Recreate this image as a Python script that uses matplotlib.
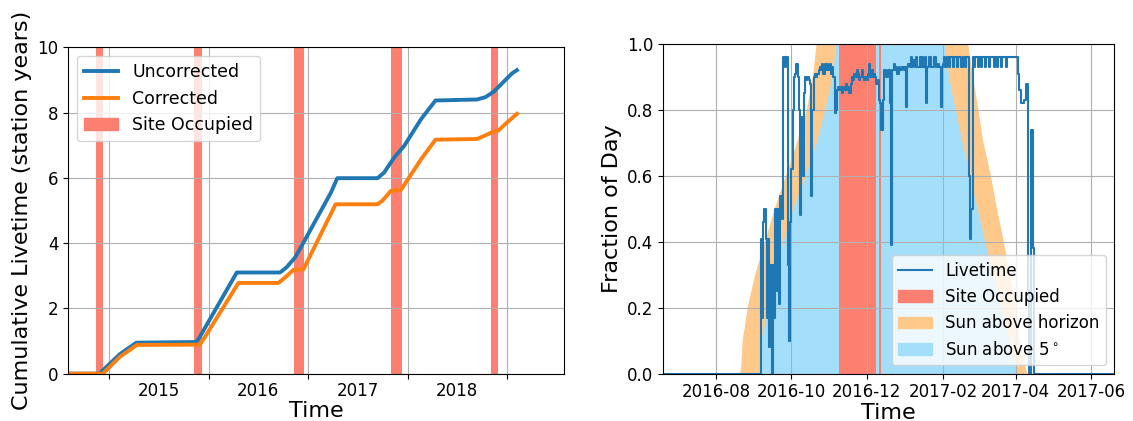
import numpy as np
import pandas as pd
import matplotlib
matplotlib.use("Agg")
import matplotlib.pyplot as plt
import matplotlib.dates as mdates
from matplotlib.lines import Line2D
from matplotlib.patches import Patch

# ---- left panel: cumulative livetime ----
uncorr_dates = ["2014-08-01", "2014-11-25", "2015-02-09", "2015-04-10", "2015-11-16",
                "2015-11-28", "2016-04-13", "2016-09-19", "2016-10-13", "2016-11-13",
                "2016-12-01", "2017-03-25", "2017-04-17", "2017-09-12", "2017-10-06",
                "2017-11-12", "2017-12-19", "2018-02-19", "2018-04-13", "2018-09-12",
                "2018-10-13", "2018-11-13", "2019-01-01", "2019-01-19", "2019-02-06"]
uncorr_vals = [0.0, 0.0, 0.60, 0.95, 0.97, 1.11, 3.10, 3.10, 3.26, 3.56,
               3.82, 5.55, 5.99, 5.99, 6.16, 6.62, 6.98, 7.80, 8.37, 8.40,
               8.47, 8.64, 9.05, 9.20, 9.30]

corr_dates = ["2014-08-01", "2014-12-08", "2015-02-09", "2015-04-12", "2015-11-29",
              "2015-12-17", "2016-04-19", "2016-09-13", "2016-10-08", "2016-11-07",
              "2016-12-14", "2017-04-11", "2017-09-12", "2017-09-30", "2017-10-31",
              "2017-12-07", "2018-02-19", "2018-04-13", "2018-09-12", "2018-10-13",
              "2018-11-10", "2018-11-30", "2019-01-01", "2019-02-06"]
corr_vals = [0.0, 0.0, 0.52, 0.88, 0.89, 1.11, 2.78, 2.78, 2.95, 3.18,
             3.20, 5.19, 5.19, 5.30, 5.60, 5.63, 6.57, 7.17, 7.19, 7.30,
             7.41, 7.45, 7.70, 7.96]

occupied_start = ["2014-11-13", "2015-11-07", "2016-11-09", "2017-10-31", "2018-11-04"]
occupied_end = ["2014-12-08", "2015-12-09", "2016-12-16", "2017-12-12", "2018-11-29"]

year_label_pos = ["2015-07-01", "2016-07-01", "2017-07-01", "2018-07-01"]
year_labels = ["2015", "2016", "2017", "2018"]

# ---- right panel: one season ----
livetime_start = "2016-09-06"
livetime_vals = [
    0.41, 0.17, 0.46, 0.50, 0.41, 0.17, 0.41, 0.08, 0.33, 0.00,
    0.33, 0.17, 0.50, 0.25, 0.50, 0.21, 0.54, 0.47, 0.96, 0.96,
    0.93, 0.96, 0.33, 0.10, 0.46, 0.62, 0.80, 0.90, 0.91, 0.94,
    0.90, 0.80, 0.48, 0.78, 0.60, 0.85, 0.90, 0.89, 0.90, 0.89,
    0.88, 0.54, 0.80, 0.90, 0.91, 0.90, 0.91, 0.92, 0.93, 0.92,
    0.94, 0.91, 0.94, 0.92, 0.94, 0.92, 0.94, 0.91, 0.93, 0.90,
    0.79, 0.80, 0.86, 0.87, 0.86, 0.87, 0.85, 0.87, 0.86, 0.88,
    0.86, 0.87, 0.85, 0.88, 0.90, 0.89, 0.91, 0.90, 0.92, 0.91,
    0.89, 0.90, 0.92, 0.90, 0.89, 0.90, 0.89, 0.91, 0.94, 0.90,
    0.92, 0.90, 0.91, 0.90, 0.88, 0.89, 0.83, 0.82, 0.74, 0.83,
    0.92, 0.92, 0.90, 0.92, 0.92, 0.82, 0.39, 0.92, 0.94, 0.92,
    0.93, 0.91, 0.93, 0.92, 0.92, 0.93, 0.92, 0.93, 0.81, 0.93,
    0.94, 0.93, 0.96, 0.93, 0.95, 0.93, 0.96, 0.93, 0.93, 0.96,
    0.93, 0.96, 0.93, 0.96, 0.82, 0.93, 0.93, 0.96, 0.93, 0.93,
    0.93, 0.96, 0.93, 0.93, 0.94, 0.93, 0.81, 0.93, 0.94, 0.96,
    0.93, 0.96, 0.96, 0.93, 0.96, 0.96, 0.93, 0.96, 0.96, 0.93,
    0.96, 0.96, 0.96, 0.93, 0.96, 0.96, 0.93, 0.96, 0.96, 0.60,
    0.41, 0.50, 0.96, 0.93, 0.96, 0.96, 0.93, 0.96, 0.96, 0.93,
    0.96, 0.96, 0.93, 0.96, 0.96, 0.93, 0.96, 0.96, 0.96, 0.93,
    0.96, 0.96, 0.93, 0.96, 0.96, 0.93, 0.96, 0.96, 0.96, 0.93,
    0.96, 0.96, 0.96, 0.96, 0.96, 0.96, 0.96, 0.96, 0.96, 0.91,
    0.86, 0.82, 0.82, 0.82, 0.83, 0.88, 0.88, 0.25, 0.00, 0.74,
    0.74, 0.38, 0.00]

horizon_dates = ["2016-08-20", "2016-08-21", "2016-08-22", "2016-08-26", "2016-09-01",
                 "2016-09-09", "2016-09-17", "2016-09-26", "2016-10-05", "2016-10-13",
                 "2016-10-18", "2016-10-21", "2017-02-21", "2017-02-25", "2017-03-01",
                 "2017-03-05", "2017-03-11", "2017-03-16", "2017-03-22", "2017-03-27",
                 "2017-04-01", "2017-04-04", "2017-04-08", "2017-04-10"]
horizon_vals = [0.0, 0.03, 0.10, 0.20, 0.30, 0.40, 0.50, 0.60, 0.70, 0.80,
                0.90, 1.0, 1.0, 0.90, 0.81, 0.71, 0.61, 0.51, 0.40, 0.30,
                0.20, 0.10, 0.03, 0.0]

above5_dates = ["2016-09-04", "2016-09-05", "2016-09-06", "2016-09-12", "2016-09-18",
                "2016-09-24", "2016-10-02", "2016-10-12", "2016-10-21", "2016-10-28",
                "2016-11-03", "2016-11-06", "2017-02-02", "2017-02-06", "2017-02-16",
                "2017-02-28", "2017-03-07", "2017-03-11", "2017-03-22", "2017-03-29",
                "2017-04-02"]
above5_vals = [0.0, 0.03, 0.10, 0.20, 0.30, 0.40, 0.50, 0.60, 0.70, 0.80,
               0.90, 1.0, 1.0, 0.89, 0.71, 0.51, 0.40, 0.34, 0.17, 0.06, 0.0]

season_occupied = [("2016-11-09", "2016-12-09"), ("2016-12-11", "2016-12-13")]

c_occ = "#fd7f6f"
c_hor = "#fec98b"
c_sun5 = "#a3dffb"

fig = plt.figure(figsize=(11.33, 4.21), dpi=100)
ax1 = fig.add_axes([0.0600, 0.1124, 0.4378, 0.7753])
ax2 = fig.add_axes([0.5854, 0.1124, 0.3981, 0.7831])

# left
for s, e in zip(occupied_start, occupied_end):
    ax1.axvspan(pd.Timestamp(s), pd.Timestamp(e), color=c_occ, lw=0)
ax1.plot(pd.to_datetime(uncorr_dates), uncorr_vals, color="#1f77b4", lw=2.8)
ax1.plot(pd.to_datetime(corr_dates), corr_vals, color="#ff7f0e", lw=2.8)
ax1.set_xlim(pd.Timestamp("2014-08-02"), pd.Timestamp("2019-07-29"))
ax1.set_ylim(0, 10)
ax1.xaxis.set_major_locator(mdates.YearLocator())
ax1.xaxis.set_major_formatter(plt.NullFormatter())
ax1.set_xticks(pd.to_datetime(year_label_pos), minor=True)
ax1.set_xticklabels(year_labels, minor=True)
ax1.tick_params(axis="x", which="minor", length=0, pad=6)
ax1.tick_params(which="both", labelsize=12)
ax1.grid(True)
ax1.set_xlabel("Time", fontsize=16, labelpad=1)
ax1.set_ylabel("Cumulative Livetime (station years)", fontsize=16)
h1 = [Line2D([], [], color="#1f77b4", lw=2.8),
      Line2D([], [], color="#ff7f0e", lw=2.8),
      Patch(color=c_occ)]
ax1.legend(h1, ["Uncorrected", "Corrected", "Site Occupied"],
           loc="upper left", fontsize=12.5)

# right
ax2.fill_between(pd.to_datetime(horizon_dates), horizon_vals, 0, color=c_hor, lw=0)
ax2.fill_between(pd.to_datetime(above5_dates), above5_vals, 0, color=c_sun5, lw=0)
for s, e in season_occupied:
    ax2.axvspan(pd.Timestamp(s), pd.Timestamp(e), color=c_occ, lw=0)

x0 = pd.Timestamp("2016-06-19")
x1 = pd.Timestamp("2017-06-20")
lt_dates = [x0] + list(pd.date_range(livetime_start, periods=len(livetime_vals), freq="D")) + [x1]
lt_vals = [0.0] + livetime_vals + [0.0]
ax2.step(lt_dates, lt_vals, where="post", color="#1f77b4", lw=1.5)

ax2.set_xlim(x0, x1)
ax2.set_ylim(0, 1.0)
ax2.xaxis.set_major_locator(mdates.MonthLocator(bymonth=[2, 4, 6, 8, 10, 12]))
ax2.xaxis.set_major_formatter(mdates.DateFormatter("%Y-%m"))
ax2.set_yticks(np.arange(0, 1.01, 0.2))
ax2.tick_params(labelsize=12)
ax2.grid(True)
ax2.set_xlabel("Time", fontsize=16, labelpad=1)
ax2.set_ylabel("Fraction of Day", fontsize=16)
h2 = [Line2D([], [], color="#1f77b4", lw=1.5),
      Patch(color=c_occ), Patch(color=c_hor), Patch(color=c_sun5)]
ax2.legend(h2, ["Livetime", "Site Occupied", "Sun above horizon", r"Sun above 5$^\circ$"],
           loc="lower right", fontsize=12)

fig.savefig("out.png", dpi=100)
